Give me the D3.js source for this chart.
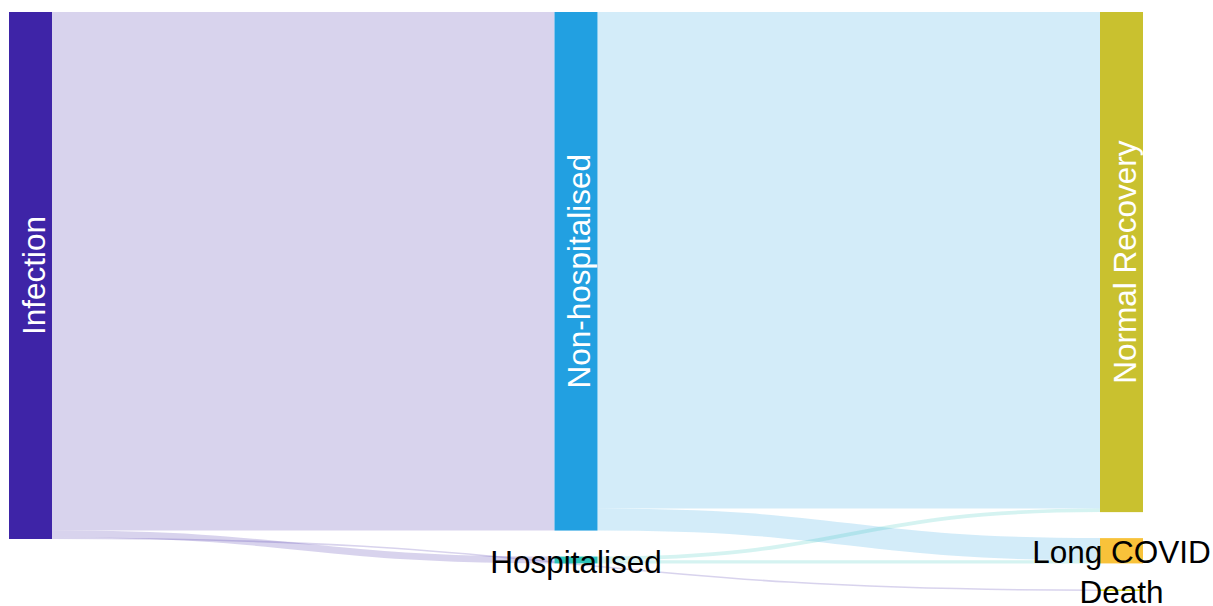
<!DOCTYPE html>
<html>
<head>
<meta charset="utf-8">
<script src="https://cdn.jsdelivr.net/npm/d3@7"></script>
<style>
  html, body { margin: 0; padding: 0; background: #fff; }
  svg { display: block; font-family: "Liberation Sans", Arial, sans-serif; }
</style>
</head>
<body>
<script>

// nodes of the flow, in stacking order
var nodeNames = ["Infection", "Non-hospitalised", "Hospitalised", "Normal Recovery", "Long COVID", "Death"];

// flows (percent of infections)
var linkSources = ["Infection", "Infection", "Infection", "Non-hospitalised", "Non-hospitalised", "Hospitalised", "Hospitalised"];
var linkTargets = ["Non-hospitalised", "Hospitalised", "Death", "Normal Recovery", "Long COVID", "Normal Recovery", "Long COVID"];
var linkValues  = [98.4, 1.3, 0.3, 94.2, 4.2, 0.7, 0.6];

var width = 1213, height = 606;
var extLeft = 9, extRight = 1143, extTop = 12, extBottom = 591;
var nodeWidth = 43, nodePad = 26;

var color = d3.scaleOrdinal()
    .domain(nodeNames)
    .range(["#3e24a7", "#22a0e1", "#2ec4ba", "#c9c12f", "#f8c23a", "#e2e02a"]);

var svg = d3.select('body').append('svg')
    .attr('width', width)
    .attr('height', height);

// build graph
var nodes = nodeNames.map(function(n, i) {
  return {name: n, index: i, sourceLinks: [], targetLinks: []};
});
var byName = new Map(nodes.map(function(n) { return [n.name, n]; }));
var links = linkValues.map(function(v, i) {
  var l = {source: byName.get(linkSources[i]), target: byName.get(linkTargets[i]), value: v};
  l.source.sourceLinks.push(l);
  l.target.targetLinks.push(l);
  return l;
});

nodes.forEach(function(n) {
  n.value = Math.max(d3.sum(n.sourceLinks, function(l) { return l.value; }),
                     d3.sum(n.targetLinks, function(l) { return l.value; }));
});

// depth = longest path from a source, end nodes pushed to the last column
function depthOf(n) {
  if (n.depth !== undefined) return n.depth;
  n.depth = n.targetLinks.length ? d3.max(n.targetLinks, function(l) { return depthOf(l.source) + 1; }) : 0;
  return n.depth;
}
nodes.forEach(depthOf);
var maxDepth = d3.max(nodes, function(n) { return n.depth; });
nodes.forEach(function(n) { n.column = n.sourceLinks.length ? n.depth : maxDepth; });

var columns = d3.groups(nodes, function(n) { return n.column; }).map(function(g) { return g[1]; });

var ky = d3.min(columns, function(c) {
  return (extBottom - extTop - (c.length - 1) * nodePad) / d3.sum(c, function(n) { return n.value; });
});
var yScale = d3.scaleLinear().domain([0, 1]).range([0, ky]);
var xScale = d3.scaleLinear().domain([0, maxDepth]).range([extLeft, extRight - nodeWidth]);

columns.forEach(function(c) {
  var y = extTop;
  c.forEach(function(n) {
    n.x0 = xScale(n.column);
    n.x1 = n.x0 + nodeWidth;
    n.y0 = y;
    n.y1 = y + yScale(n.value);
    y = n.y1 + nodePad;
  });
});

links.forEach(function(l) { l.width = yScale(l.value); });
nodes.forEach(function(n) {
  n.sourceLinks.sort(function(a, b) { return a.target.y0 - b.target.y0; });
  n.targetLinks.sort(function(a, b) { return a.source.y0 - b.source.y0; });
  var y = n.y0;
  n.sourceLinks.forEach(function(l) { l.ys = y + l.width / 2; y += l.width; });
  y = n.y0;
  n.targetLinks.forEach(function(l) { l.yt = y + l.width / 2; y += l.width; });
});

var linkPath = d3.linkHorizontal()
    .source(function(l) { return [l.source.x1, l.ys]; })
    .target(function(l) { return [l.target.x0, l.yt]; });

svg.append('g')
    .attr('fill', 'none')
  .selectAll('path')
    .data(links)
  .enter().append('path')
    .attr('d', linkPath)
    .attr('stroke', function(l) { return color(l.source.name); })
    .attr('stroke-opacity', 0.2)
    .attr('stroke-width', function(l) { return Math.max(1, l.width); });

svg.append('g')
  .selectAll('rect')
    .data(nodes)
  .enter().append('rect')
    .attr('x', function(n) { return n.x0; })
    .attr('y', function(n) { return n.y0; })
    .attr('width', nodeWidth)
    .attr('height', function(n) { return Math.max(1.5, n.y1 - n.y0); })
    .attr('fill', function(n) { return color(n.name); });

// big nodes get rotated white labels inside, small ones plain black labels
var labels = svg.append('g')
    .attr('font-size', '31.5px')
  .selectAll('text')
    .data(nodes)
  .enter().append('text')
    .attr('text-anchor', 'middle')
    .text(function(n) { return n.name; });

labels.each(function(n) {
  var cx = (n.x0 + n.x1) / 2, cy = (n.y0 + n.y1) / 2;
  var t = d3.select(this);
  if (n.y1 - n.y0 > 300) {
    t.attr('transform', 'translate(' + cx + ',' + cy + ') rotate(-90)')
     .attr('dy', '0.45em')
     .attr('fill', '#fff');
  } else {
    t.attr('x', cx)
     .attr('y', cy)
     .attr('dy', '0.4em')
     .attr('fill', '#000');
  }
});

</script>
</body>
</html>
